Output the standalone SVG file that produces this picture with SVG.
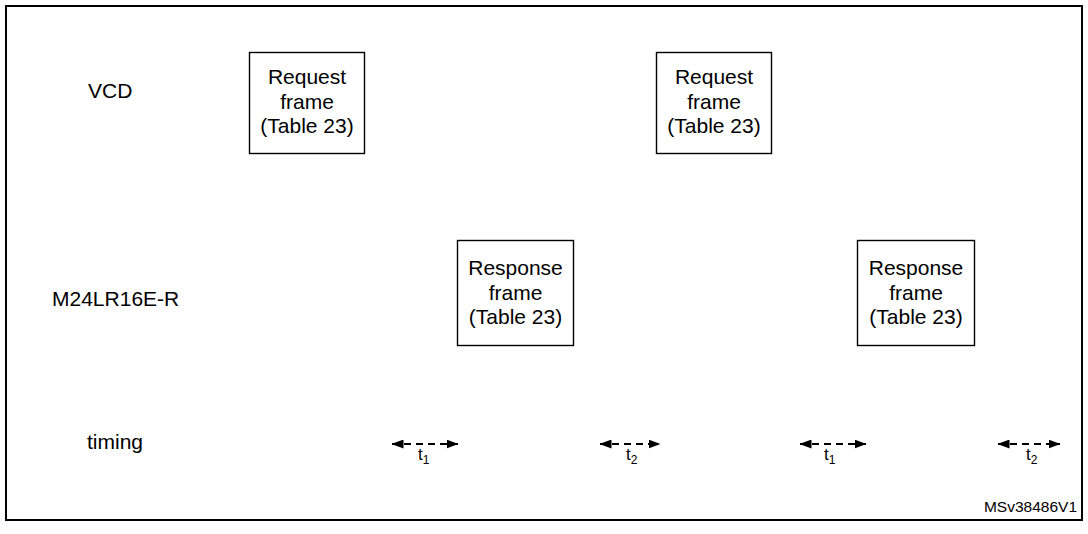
<svg xmlns="http://www.w3.org/2000/svg" width="1088" height="534" viewBox="0 0 1088 534">
<style>
text{font-family:"Liberation Sans",Arial,sans-serif;fill:#000}
.lbl{font-size:21px}
.box{fill:#fff;stroke:#000;stroke-width:1.4}
.bt{font-size:21px;text-anchor:middle}
.arr{stroke:#000;stroke-width:2;stroke-dasharray:7 5;fill:none}
.t{font-size:17px}
.sub{font-size:12px}
</style>
<defs>
<marker id="ah" viewBox="0 0 12 9" refX="11.5" refY="4.5" markerWidth="12" markerHeight="9" markerUnits="userSpaceOnUse" orient="auto-start-reverse">
<path d="M0,0 L12,4.5 L0,9 Z" fill="#000"/>
</marker>
</defs>
<rect x="0" y="0" width="1088" height="534" fill="#fff"/>
<rect x="6" y="6" width="1076" height="514" fill="none" stroke="#000" stroke-width="2"/>
<g id="labels">
<text class="lbl" x="88" y="98">VCD</text>
<text class="lbl" x="52" y="306">M24LR16E-R</text>
<text class="lbl" x="87" y="449">timing</text>
<text x="1077" y="512" font-size="15.5" text-anchor="end">MSv38486V1</text>
</g>
<g id="req1">
<rect class="box" x="249.5" y="52.5" width="115" height="101"/>
<text class="bt" x="307" y="84">Request</text>
<text class="bt" x="307" y="108.5">frame</text>
<text class="bt" x="307" y="133">(Table 23)</text>
</g>
<g id="req2">
<rect class="box" x="656.5" y="52.5" width="115" height="101"/>
<text class="bt" x="714" y="84">Request</text>
<text class="bt" x="714" y="108.5">frame</text>
<text class="bt" x="714" y="133">(Table 23)</text>
</g>
<g id="resp1">
<rect class="box" x="457.5" y="240.5" width="116" height="105"/>
<text class="bt" x="515.5" y="275">Response</text>
<text class="bt" x="515.5" y="299.5">frame</text>
<text class="bt" x="515.5" y="324">(Table 23)</text>
</g>
<g id="resp2">
<rect class="box" x="857.5" y="240.5" width="117" height="105"/>
<text class="bt" x="916" y="275">Response</text>
<text class="bt" x="916" y="299.5">frame</text>
<text class="bt" x="916" y="324">(Table 23)</text>
</g>
<g id="connectors">
<line class="arr" x1="392" y1="444" x2="458" y2="444" marker-start="url(#ah)" marker-end="url(#ah)"/>
<line class="arr" x1="600" y1="444" x2="660" y2="444" marker-start="url(#ah)" marker-end="url(#ah)"/>
<line class="arr" x1="800" y1="444" x2="866" y2="444" marker-start="url(#ah)" marker-end="url(#ah)"/>
<line class="arr" x1="998" y1="444" x2="1060" y2="444" marker-start="url(#ah)" marker-end="url(#ah)"/>
<text class="t" x="418" y="460">t<tspan class="sub" dy="4">1</tspan></text>
<text class="t" x="626" y="460">t<tspan class="sub" dy="4">2</tspan></text>
<text class="t" x="824" y="460">t<tspan class="sub" dy="4">1</tspan></text>
<text class="t" x="1026" y="460">t<tspan class="sub" dy="4">2</tspan></text>
</g>
</svg>
